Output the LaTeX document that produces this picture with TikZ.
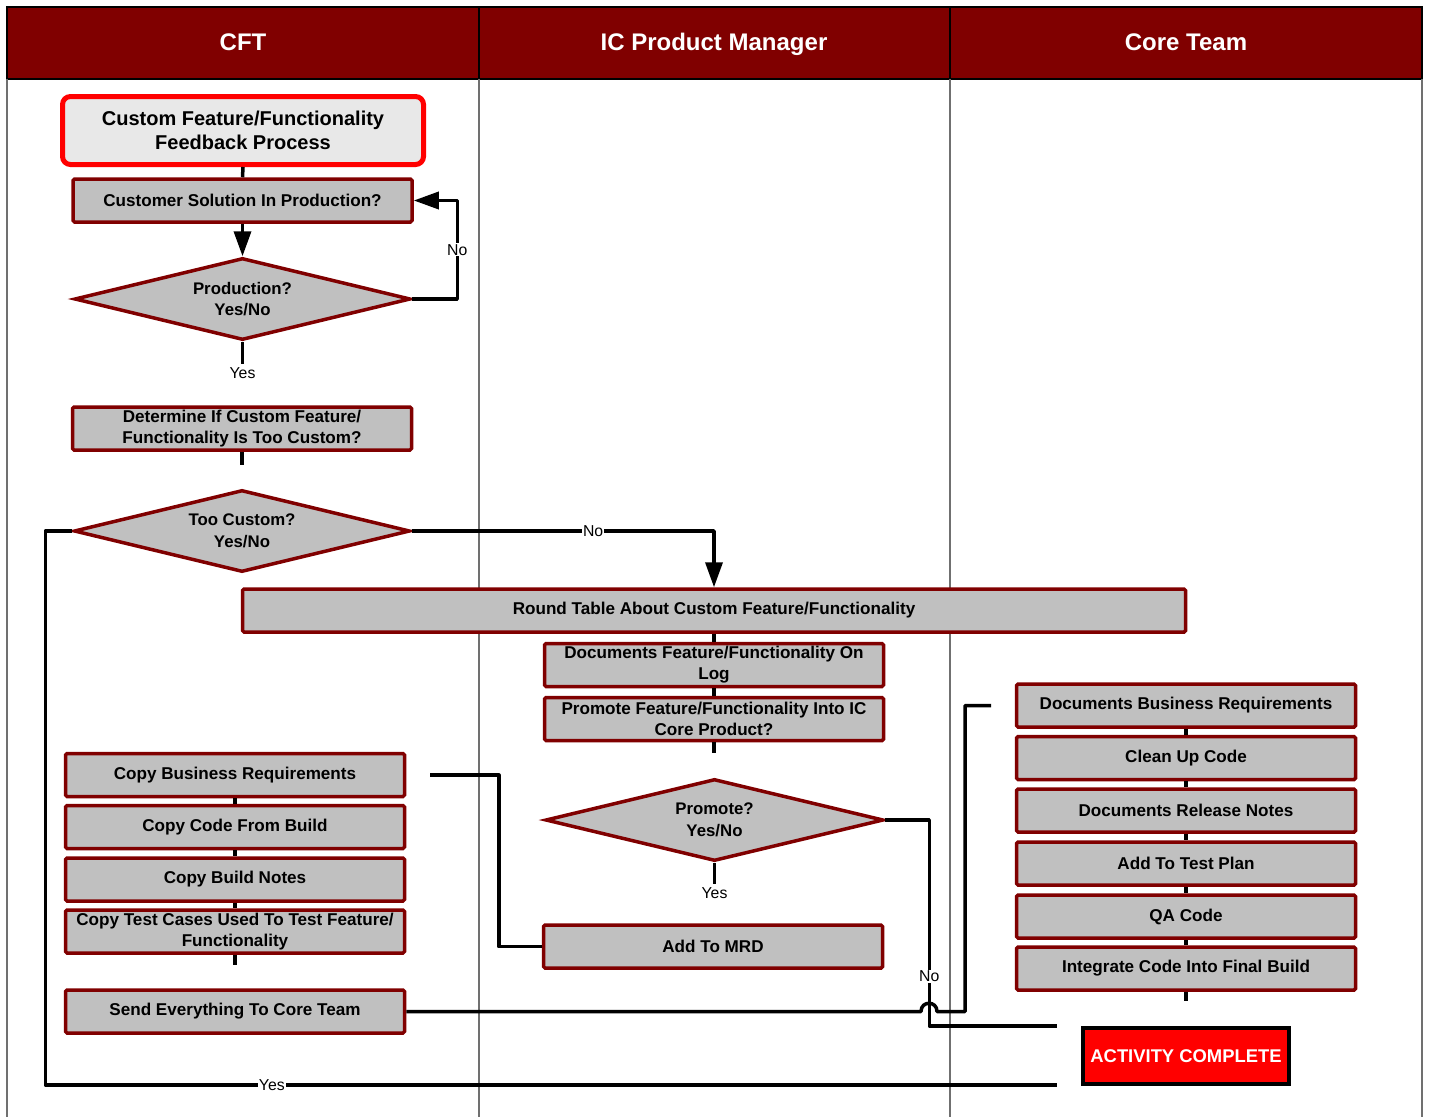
\documentclass[tikz,border=0pt]{standalone}
\usepackage{fontspec}
\setmainfont{Liberation Sans}
\usetikzlibrary{shapes.geometric,arrows.meta}
\definecolor{lanered}{HTML}{800000}
\definecolor{boxgray}{HTML}{C0C0C0}
\definecolor{startfill}{HTML}{E8E8E8}
\definecolor{alarm}{HTML}{FF0000}
\definecolor{laneline}{HTML}{707070}
\begin{document}
\begin{tikzpicture}[x=1pt,y=-1pt,
  lanehead/.style={font=\fontsize{24}{28}\selectfont\bfseries, text=white, anchor=base},
  startbox/.style={rectangle, draw=alarm, line width=5pt, fill=startfill,
    rounded corners=8pt, minimum width=361pt, minimum height=68pt, inner sep=0pt,
    align=center, font=\fontsize{20}{24}\selectfont\bfseries},
  task/.style={rectangle, draw=lanered, line width=3.5pt, fill=boxgray,
    rounded corners=1.5pt, minimum width=339pt, minimum height=43pt, inner sep=0pt,
    align=center, font=\fontsize{17.1}{21}\selectfont\bfseries},
  decision/.style={diamond, draw=lanered, line width=3.5pt, fill=boxgray,
    minimum width=336pt, minimum height=82pt, inner sep=0pt, aspect=4,
    align=center, font=\fontsize{16.8}{21.5}\selectfont\bfseries},
  donebox/.style={rectangle, draw=black, line width=4pt, fill=alarm, text=white,
    minimum width=206pt, minimum height=56pt, inner sep=0pt,
    font=\fontsize{18.4}{21}\selectfont\bfseries},
  link/.style={draw=black, line width=3.5pt, line join=round},
  arrowlink/.style={link, -{Triangle[length=25pt,width=17pt]}},
  lbl/.style={fill=white, inner sep=1pt, font=\fontsize{15.8}{18}\selectfont},
  lane/.style={draw=laneline, line width=1.2pt}
]
\useasboundingbox (0,0) rectangle (1429,1117);

% swimlane frame and headers
\fill[lanered] (7,7) rectangle (1422,79);
\draw[black, line width=1.2pt] (7,7) rectangle (1422,79);
\draw[black, line width=1.2pt] (479,7) -- (479,79) (950,7) -- (950,79);
\draw[lane] (7,79) -- (7,1117);
\draw[lane] (479,79) -- (479,1117);
\draw[lane] (950,79) -- (950,1117);
\draw[lane] (1422,79) -- (1422,1117);
\node[lanehead] (hcft) at (243,50.5) {CFT};
\node[lanehead] (hpm) at (714,50.5) {IC Product Manager};
\node[lanehead] (hcore) at (1186,50.5) {Core Team};

% CFT lane
\node[startbox] (start) at (243,130.5) {Custom Feature/Functionality\\Feedback Process};
\node[task] (sol) at (242.5,200.5) {Customer Solution In Production?};
\node[decision] (prod) at (242.5,299) {Production?\\Yes/No};
\coordinate (prodYes) at (242.5,364);
\node[lbl] (prodYesLbl) at (242.5,373) {Yes};
\node[task] (det) at (242,428.5) {Determine If Custom Feature/\\Functionality Is Too Custom?};
\coordinate (detEnd) at (242,465);
\node[decision] (tooc) at (242,531) {Too Custom?\\Yes/No};

\node[task] (cbr) at (235,775) {Copy Business Requirements};
\node[task] (ccb) at (235,827) {Copy Code From Build};
\node[task] (cbn) at (235,879.5) {Copy Build Notes};
\node[task] (ctc) at (235,931.5) {Copy Test Cases Used To Test Feature/\\Functionality};
\coordinate (ctcEnd) at (235,965);
\node[task] (send) at (235,1011.5) {Send Everything To Core Team};

% IC Product Manager lane
\node[task, minimum width=943pt] (round) at (714,610.5) {Round Table About Custom Feature/Functionality};
\node[task] (doclog) at (714,665) {Documents Feature/Functionality On\\Log};
\node[task] (promo) at (714,719) {Promote Feature/Functionality Into IC\\Core Product?};
\coordinate (promoEnd) at (714,753);
\node[decision, minimum width=338pt] (prom) at (714.5,820) {Promote?\\Yes/No};
\coordinate (promYes) at (714.5,884);
\node[lbl] (promYesLbl) at (714.5,893) {Yes};
\node[task] (mrd) at (713,946.5) {Add To MRD};

% Core Team lane
\node[task] (dbr) at (1186,705.5) {Documents Business Requirements};
\node[task] (cuc) at (1186,758) {Clean Up Code};
\node[task] (drn) at (1186,810.5) {Documents Release Notes};
\node[task] (atp) at (1186,863.5) {Add To Test Plan};
\node[task] (qac) at (1186,916.5) {QA Code};
\node[task] (icf) at (1186,968.5) {Integrate Code Into Final Build};
\coordinate (icfEnd) at (1186,1001);
\node[donebox] (done) at (1186,1056) {ACTIVITY COMPLETE};

% free ends of open connectors
\coordinate (cbrEnd) at (430,775);
\coordinate (sendEnd) at (991,705.5);
\coordinate (hopL) at (921,1011.5);
\coordinate (hopR) at (937,1011.5);
\coordinate (noEnd) at (1057,1026);
\coordinate (yesEnd) at (1057,1085);

% connectors
\draw[link] (start.south) -- (sol.north);
\draw[arrowlink] (sol.south) -- (prod.north);
\draw[arrowlink] (prod.east) -- ++(45,0) -- node[lbl]{No} ++(0,-98.5) -- (sol.east);
\draw[link] (prod.south) -- (prodYes);
\draw[link] (det.south) -- (detEnd);
\draw[arrowlink] (tooc.east) -| node[lbl, pos=0.3]{No} (round.north);
\draw[link] (tooc.west) -- ++(-27,0) |- node[lbl, pos=0.612]{Yes} (yesEnd);

\draw[link] (round.south) -- (doclog.north);
\draw[link] (doclog.south) -- (promo.north);
\draw[link] (promo.south) -- (promoEnd);
\draw[link] (prom.south) -- (promYes);
\draw[link] (prom.east) -- ++(44,0) -- node[lbl, pos=0.76]{No} ++(0,206) -- (noEnd);
\draw[link] (mrd.west) -- ++(-43,0) |- (cbrEnd);

\draw[link] (cbr.south) -- (ccb.north);
\draw[link] (ccb.south) -- (cbn.north);
\draw[link] (cbn.south) -- (ctc.north);
\draw[link] (ctc.south) -- (ctcEnd);
\draw[link] (send.east) -- (hopL) .. controls +(0,-11) and +(0,-11) .. (hopR) -- ++(28,0) |- (sendEnd);

\draw[link] (dbr.south) -- (cuc.north);
\draw[link] (cuc.south) -- (drn.north);
\draw[link] (drn.south) -- (atp.north);
\draw[link] (atp.south) -- (qac.north);
\draw[link] (qac.south) -- (icf.north);
\draw[link] (icf.south) -- (icfEnd);
\end{tikzpicture}
\end{document}
